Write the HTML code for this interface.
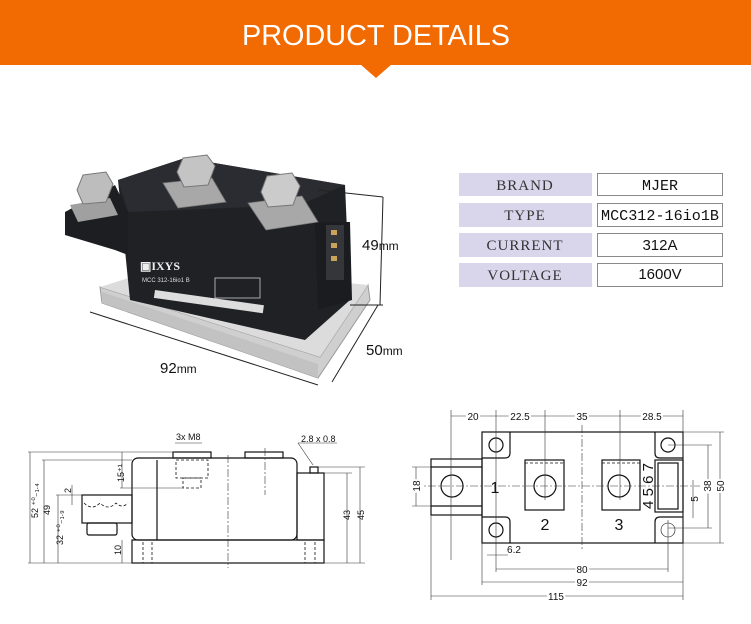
<!DOCTYPE html>
<html><head><meta charset="utf-8"><style>
html,body{margin:0;padding:0;background:#fff;width:751px;height:624px;overflow:hidden;font-family:"Liberation Sans",sans-serif}
</style></head><body>
<svg width="751" height="624" viewBox="0 0 751 624" xmlns="http://www.w3.org/2000/svg" font-family="Liberation Sans, sans-serif">
<!-- header -->
<rect x="0" y="0" width="751" height="65" fill="#f26a02"/>
<polygon points="360,64 392,64 376,78" fill="#f26a02"/>
<text x="376" y="45" fill="#fff" font-size="29" text-anchor="middle" textLength="268" lengthAdjust="spacingAndGlyphs">PRODUCT  DETAILS</text>

<!-- photo -->
<polygon points="100,287 102,303 318,378 370,300 368,285 320,357" fill="#cfcfcf" stroke="#999" stroke-width="1"/>
<polygon points="102,292 318,364 318,378 102,303" fill="#c2c2c2"/>
<polygon points="100,287 170,265 368,285 320,357" fill="#dcdcdc"/>
<polygon points="118,180 185,158 345,185 350,300 305,340 130,300" fill="#1f2125"/>
<polygon points="118,180 185,158 345,185 300,205 128,212" fill="#2a2c31"/>
<polygon points="65,212 115,185 128,212 128,255 115,250 65,235" fill="#1c1e22"/>
<polygon points="315,222 350,222 352,300 318,310" fill="#1a1c20"/>
<rect x="326" y="225" width="18" height="55" fill="#34363a"/>
<rect x="331" y="230" width="6" height="5" fill="#c9a45a"/><rect x="331" y="243" width="6" height="5" fill="#c9a45a"/><rect x="331" y="256" width="6" height="5" fill="#c9a45a"/>
<polygon points="163,183 212,178 226,202 178,208" fill="#a8a8a8" stroke="#777" stroke-width="0.8"/>
<polygon points="248,203 302,196 318,222 266,230" fill="#a8a8a8" stroke="#777" stroke-width="0.8"/>
<polygon points="70,205 110,198 118,215 78,222" fill="#a0a0a0"/>
<polygon points="183,158 207,155 215,166 208,185 184,187 177,172" fill="#c4c4c4" stroke="#777"/>
<polygon points="267,176 292,173 300,186 293,205 268,207 261,192" fill="#cbcbcb" stroke="#777"/>
<polygon points="83,175 106,172 113,184 106,202 83,204 77,190" fill="#bdbdbd" stroke="#777"/>
<text x="140" y="270" fill="#eee" font-size="12" font-family="Liberation Serif, serif" font-weight="bold">▣IXYS</text>
<text x="142" y="282" fill="#ddd" font-size="6">MCC 312-16io1 B</text>
<rect x="155" y="290" width="110" height="8" fill="#ddd" transform="rotate(8 155 290)"/>
<rect x="215" y="278" width="45" height="20" fill="none" stroke="#ccc" stroke-width="0.8"/>
<!-- dim lines photo -->
<line x1="318" y1="190" x2="383" y2="197" stroke="#222"/>
<line x1="383" y1="197" x2="380" y2="305" stroke="#222"/>
<line x1="350" y1="305" x2="383" y2="305" stroke="#222"/>
<line x1="378" y1="305" x2="332" y2="382" stroke="#222"/>
<line x1="90" y1="312" x2="318" y2="385" stroke="#222"/>
<text x="362" y="250" font-size="15" fill="#111">49<tspan font-size="12">mm</tspan></text>
<text x="366" y="355" font-size="15" fill="#111">50<tspan font-size="12">mm</tspan></text>
<text x="160" y="373" font-size="15" fill="#111">92<tspan font-size="12">mm</tspan></text>

<!-- table -->
<g font-family="Liberation Serif, serif" font-size="15" fill="#333" text-anchor="middle" letter-spacing="1">
<rect x="459" y="173" width="133" height="23" fill="#d9d6ec"/>
<rect x="459" y="203" width="133" height="24" fill="#d9d6ec"/>
<rect x="459" y="233" width="133" height="24" fill="#d9d6ec"/>
<rect x="459" y="263" width="133" height="24" fill="#d9d6ec"/>
<text x="525" y="190">BRAND</text><text x="525" y="220">TYPE</text><text x="525" y="250">CURRENT</text><text x="525" y="280">VOLTAGE</text>
</g>
<g fill="#fff" stroke="#8a8a8a" stroke-width="1">
<rect x="597.5" y="173.5" width="125" height="22"/><rect x="597.5" y="203.5" width="125" height="23"/>
<rect x="597.5" y="233.5" width="125" height="23"/><rect x="597.5" y="263.5" width="125" height="23"/>
</g>
<g font-family="Liberation Mono, monospace" font-size="15" fill="#111" text-anchor="middle">
<text x="660" y="190">MJER</text>
<text x="660" y="220" textLength="118" lengthAdjust="spacingAndGlyphs">MCC312-16io1B</text>
<text x="660" y="250" font-family="Liberation Sans, sans-serif">312A</text>
<text x="660" y="279" font-family="Liberation Sans, sans-serif">1600V</text>
</g>

<!-- bottom-left drawing -->
<g stroke="#111" fill="none" stroke-width="1.2">
<rect x="132" y="458" width="165" height="82" rx="6"/>
<line x1="157" y1="460" x2="157" y2="540"/>
<rect x="297" y="473" width="27" height="67"/>
<rect x="132" y="540" width="192" height="23"/>
<rect x="173" y="452" width="38" height="6"/>
<rect x="245" y="452" width="38" height="6"/>
<rect x="82" y="495" width="50" height="28"/>
<rect x="87" y="523" width="30" height="12" rx="2"/>
<rect x="310" y="467" width="8" height="6"/>
</g>
<g stroke="#111" fill="none" stroke-width="0.8" stroke-dasharray="3,2">
<rect x="176" y="460" width="32" height="18"/><rect x="183" y="478" width="18" height="10"/>
<path d="M84,503 q8,8 16,0 q8,8 16,0 q6,6 12,0"/>
<line x1="143" y1="542" x2="143" y2="563"/><line x1="152" y1="542" x2="152" y2="563"/>
<line x1="305" y1="542" x2="305" y2="563"/><line x1="315" y1="542" x2="315" y2="563"/>
</g>
<g stroke="#333" stroke-width="0.6" fill="none">
<line x1="228" y1="455" x2="228" y2="568" stroke-dasharray="8,2,2,2"/>
<line x1="265" y1="448" x2="265" y2="495" stroke-dasharray="8,2,2,2"/>
<line x1="28" y1="452" x2="175" y2="452"/><line x1="42" y1="460" x2="132" y2="460"/>
<line x1="56" y1="495" x2="82" y2="495"/><line x1="120" y1="488" x2="183" y2="488"/>
<line x1="28" y1="563" x2="132" y2="563"/><line x1="324" y1="563" x2="365" y2="563"/>
<line x1="318" y1="467" x2="365" y2="467"/><line x1="324" y1="473" x2="352" y2="473"/>
<line x1="30" y1="452" x2="30" y2="563"/><line x1="44" y1="460" x2="44" y2="563"/>
<line x1="58" y1="495" x2="58" y2="563"/><line x1="122" y1="452" x2="122" y2="488"/>
<line x1="122" y1="540" x2="122" y2="563"/><line x1="347" y1="473" x2="347" y2="563"/>
<line x1="360" y1="467" x2="360" y2="563"/><line x1="72" y1="485" x2="72" y2="505"/>
<line x1="175" y1="443" x2="202" y2="443"/><line x1="298" y1="443" x2="337" y2="443"/>
<line x1="298" y1="443" x2="313" y2="465"/>
</g>
<g font-size="9" fill="#111">
<text x="176" y="440">3x M8</text><text x="301" y="442">2.8 x 0.8</text>
<text transform="translate(38,518) rotate(-90)">52 ⁺⁰₋₁.₄</text>
<text transform="translate(50,515) rotate(-90)">49</text>
<text transform="translate(63,545) rotate(-90)">32 ⁺⁰₋₁.₉</text>
<text transform="translate(124,482) rotate(-90)">15⁺¹</text>
<text transform="translate(71,493) rotate(-90)">2</text>
<text transform="translate(121,555) rotate(-90)">10</text>
<text transform="translate(350,520) rotate(-90)">43</text>
<text transform="translate(364,520) rotate(-90)">45</text>
</g>

<!-- bottom-right drawing -->
<g stroke="#111" fill="none" stroke-width="1.2">
<rect x="482" y="432" width="201" height="111"/>
<path d="M510,432 V453 Q510,458 505,458 H482 M510,543 V522 Q510,517 505,517 H482 M655,432 V453 Q655,458 660,458 H683 M655,543 V522 Q655,517 660,517 H683"/>
<rect x="431" y="459" width="51" height="56"/>
<line x1="431" y1="467" x2="482" y2="467"/><line x1="431" y1="506" x2="482" y2="506"/>
<circle cx="452" cy="486" r="11"/>
<rect x="525" y="460" width="39" height="50"/><rect x="602" y="460" width="38" height="50"/>
<circle cx="545" cy="486" r="11"/><circle cx="619" cy="486" r="11"/>
<circle cx="496" cy="445" r="7"/><circle cx="496" cy="530" r="7"/><circle cx="668" cy="445" r="7"/>
<circle cx="668" cy="530" r="7" stroke-width="0.6"/>
<rect x="655" y="460" width="28" height="52"/><rect x="658" y="463" width="20" height="46"/>
</g>
<g stroke="#111" stroke-width="0.8" stroke-dasharray="3,2"><line x1="525" y1="463" x2="564" y2="463"/><line x1="602" y1="463" x2="640" y2="463"/></g>
<g stroke="#333" stroke-width="0.6" fill="none">
<line x1="414" y1="486" x2="700" y2="486" stroke-dasharray="8,2,2,2"/>
<line x1="582" y1="425" x2="582" y2="550" stroke-dasharray="8,2,2,2"/>
<line x1="451" y1="410" x2="451" y2="560"/><line x1="496" y1="410" x2="496" y2="572"/>
<line x1="545" y1="410" x2="545" y2="500"/><line x1="620" y1="410" x2="620" y2="500"/>
<line x1="683" y1="410" x2="683" y2="600"/><line x1="668" y1="520" x2="668" y2="572"/>
<line x1="482" y1="543" x2="482" y2="585"/><line x1="431" y1="515" x2="431" y2="600"/>
<line x1="451" y1="416" x2="683" y2="416"/>
<line x1="496" y1="569" x2="668" y2="569"/><line x1="482" y1="582" x2="683" y2="582"/><line x1="431" y1="596" x2="683" y2="596"/>
<line x1="683" y1="432" x2="724" y2="432"/><line x1="683" y1="543" x2="724" y2="543"/>
<line x1="668" y1="445" x2="712" y2="445"/><line x1="668" y1="528" x2="712" y2="528"/>
<line x1="720" y1="432" x2="720" y2="543"/><line x1="708" y1="445" x2="708" y2="528"/>
<line x1="693" y1="480" x2="693" y2="518"/>
<line x1="412" y1="467" x2="431" y2="467"/><line x1="412" y1="506" x2="431" y2="506"/><line x1="416" y1="467" x2="416" y2="506"/>
<line x1="487" y1="555" x2="508" y2="555"/>
</g>
<g font-size="10" fill="#111" text-anchor="middle">
<text x="473" y="420" style="paint-order:stroke" stroke="#fff" stroke-width="4">20</text>
<text x="520" y="420" style="paint-order:stroke" stroke="#fff" stroke-width="4">22.5</text>
<text x="582" y="420" style="paint-order:stroke" stroke="#fff" stroke-width="4">35</text>
<text x="652" y="420" style="paint-order:stroke" stroke="#fff" stroke-width="4">28.5</text>
<text x="582" y="573" style="paint-order:stroke" stroke="#fff" stroke-width="4">80</text>
<text x="582" y="586" style="paint-order:stroke" stroke="#fff" stroke-width="4">92</text>
<text x="556" y="600" style="paint-order:stroke" stroke="#fff" stroke-width="4">115</text>
<text x="514" y="553">6.2</text>
<text transform="translate(420,486) rotate(-90)" style="paint-order:stroke" stroke="#fff" stroke-width="4">18</text>
<text transform="translate(711,486) rotate(-90)" style="paint-order:stroke" stroke="#fff" stroke-width="4">38</text>
<text transform="translate(724,486) rotate(-90)" style="paint-order:stroke" stroke="#fff" stroke-width="4">50</text>
<text transform="translate(698,499) rotate(-90)">5</text>
</g>
<g font-size="16" fill="#111" text-anchor="middle">
<text x="495" y="493">1</text><text x="545" y="530">2</text><text x="619" y="530">3</text>
<text transform="translate(653,486) rotate(-90)" font-size="15">4 5 6 7</text>
</g>
</svg>
</body></html>
